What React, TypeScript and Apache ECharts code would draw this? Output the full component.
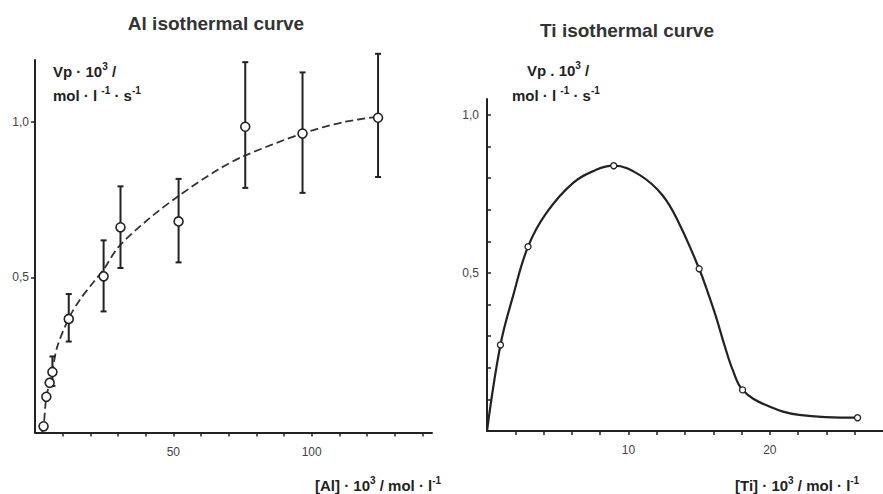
import React, { useEffect, useRef } from "react";
import * as echarts from "echarts";

// ---- Al isothermal curve ----
const alPointX = [3.1, 4.1, 5.3, 6.3, 12.2, 24.8, 30.9, 51.9, 76.0, 96.7, 124.0];
const alPointY = [0.02, 0.115, 0.16, 0.195, 0.366, 0.503, 0.661, 0.68, 0.985, 0.963, 1.014];
const alErrX = [6.3, 12.2, 24.8, 30.9, 51.9, 76.0, 96.7, 124.0];
const alErrLow = [0.15, 0.293, 0.39, 0.53, 0.548, 0.788, 0.772, 0.823];
const alErrHigh = [0.245, 0.446, 0.619, 0.793, 0.817, 1.193, 1.16, 1.22];
const alCurveX = [2.5, 3.1, 4.1, 5.3, 6.3, 8.0, 12.2, 16.4, 21.2, 24.8, 30.2, 41.1, 51.9, 65.8, 75.4, 96.5, 111.5, 123.8];
const alCurveY = [0.0, 0.02, 0.115, 0.16, 0.2, 0.275, 0.368, 0.43, 0.485, 0.525, 0.598, 0.688, 0.762, 0.845, 0.89, 0.963, 1.0, 1.017];
const alXTicks = [10, 20, 30, 40, 50, 60, 70, 80, 90, 100, 110, 120, 130, 140];
const alXLabels = [50, 100];
const alYTicks = [0.5, 1.0];

// ---- Ti isothermal curve ----
const tiPointX = [0.95, 2.9, 8.96, 15.0, 18.07, 26.2];
const tiPointY = [0.272, 0.583, 0.839, 0.513, 0.13, 0.042];
const tiCurveX = [0, 0.95, 1.83, 2.9, 4.19, 6.07, 7.72, 8.96, 10.78, 12.42, 13.6, 15.0, 15.6, 16.2, 16.8, 17.4, 18.07, 19.72, 22.07, 26.2];
const tiCurveY = [0.0, 0.272, 0.425, 0.583, 0.689, 0.784, 0.826, 0.839, 0.81, 0.745, 0.655, 0.513, 0.44, 0.36, 0.27, 0.19, 0.13, 0.082, 0.051, 0.042];
const tiXTicks = [2, 4, 6, 8, 10, 12, 14, 16, 18, 20, 22, 24, 26];
const tiXLabels = [10, 20];
const tiYTicks = [0.1, 0.2, 0.3, 0.4, 0.5, 0.6, 0.7, 0.8, 0.9, 1.0];
const tiYLabels = [0.5, 1.0];

const FONT = "'Liberation Sans', Arial, sans-serif";
const INK = "#222";

const zip = (a: number[], b: number[]) => a.map((v, i) => [v, b[i]]);
const commaFmt = (v: number) => v.toFixed(1).replace(".", ",");

const supRich = {
  b: { fontSize: 15, fontWeight: "bold", fontFamily: FONT, fill: INK, lineHeight: 20 },
  s: { fontSize: 10, fontWeight: "bold", fontFamily: FONT, fill: INK, verticalAlign: "top", lineHeight: 11 },
};

export default function App() {
  const ref = useRef<HTMLDivElement>(null);
  useEffect(() => {
    if (!ref.current) return;
    const chart = echarts.init(ref.current, null, { renderer: "svg" });
    const axisLine = { lineStyle: { color: INK, width: 2 } };
    const labelStyle = { color: "#444", fontSize: 12, fontFamily: FONT };
    const titleStyle = { fontSize: 19, fontWeight: "bold", color: "#333", fontFamily: FONT };
    chart.setOption({
      animation: false,
      backgroundColor: "#fff",
      title: [
        { text: "Al isothermal curve", left: 211, top: 9, textAlign: "center", textStyle: titleStyle },
        { text: "Ti isothermal curve", left: 622, top: 16, textAlign: "center", textStyle: titleStyle },
      ],
      grid: [
        { left: 35, top: 60, width: 397, height: 372.5, outerBoundsMode: "none", containLabel: false },
        { left: 487, top: 99, width: 396, height: 332, outerBoundsMode: "none", containLabel: false },
      ],
      xAxis: [
        {
          gridIndex: 0,
          type: "value",
          min: 0,
          max: 143.5,
          splitLine: { show: false },
          axisLine,
          axisTick: { customValues: alXTicks, length: 4, lineStyle: { color: INK, width: 1.5 } },
          axisLabel: { customValues: alXLabels, margin: 13, ...labelStyle },
        },
        {
          gridIndex: 1,
          type: "value",
          min: 0,
          max: 28,
          splitLine: { show: false },
          axisLine,
          axisTick: { customValues: tiXTicks, length: 4, lineStyle: { color: INK, width: 1.5 } },
          axisLabel: { customValues: tiXLabels, margin: 13, ...labelStyle },
        },
      ],
      yAxis: [
        {
          gridIndex: 0,
          type: "value",
          min: 0,
          max: 1.2,
          splitLine: { show: false },
          axisLine,
          axisTick: { customValues: alYTicks, length: 4, lineStyle: { color: INK, width: 1.5 } },
          axisLabel: { customValues: alYTicks, margin: 6, formatter: commaFmt, ...labelStyle },
        },
        {
          gridIndex: 1,
          type: "value",
          min: 0,
          max: 1.05,
          splitLine: { show: false },
          axisLine,
          axisTick: { customValues: tiYTicks, inside: true, length: 4, lineStyle: { color: INK, width: 1.5 } },
          axisLabel: { customValues: tiYLabels, margin: 8, formatter: commaFmt, ...labelStyle },
        },
      ],
      series: [
        {
          type: "line",
          xAxisIndex: 0,
          yAxisIndex: 0,
          data: zip(alCurveX, alCurveY),
          showSymbol: false,
          smooth: 0.3,
          lineStyle: { color: "#333", width: 1.8, type: [8, 4] },
          z: 2,
        },
        {
          type: "custom",
          xAxisIndex: 0,
          yAxisIndex: 0,
          clip: false,
          data: alErrX.map((x, i) => [x, alErrLow[i], alErrHigh[i]]),
          renderItem: (params: any, api: any) => {
            const lo = api.coord([api.value(0), api.value(1)]);
            const hi = api.coord([api.value(0), api.value(2)]);
            const st = { stroke: INK, lineWidth: 2 };
            const cw = 3;
            return {
              type: "group",
              children: [
                { type: "line", shape: { x1: lo[0], y1: lo[1], x2: hi[0], y2: hi[1] }, style: st },
                { type: "line", shape: { x1: lo[0] - cw, y1: lo[1], x2: lo[0] + cw, y2: lo[1] }, style: st },
                { type: "line", shape: { x1: hi[0] - cw, y1: hi[1], x2: hi[0] + cw, y2: hi[1] }, style: st },
              ],
            };
          },
          z: 3,
        },
        {
          type: "scatter",
          xAxisIndex: 0,
          yAxisIndex: 0,
          data: zip(alPointX, alPointY),
          symbol: "circle",
          symbolSize: 9,
          itemStyle: { color: "#fff", borderColor: INK, borderWidth: 1.6, opacity: 1 },
          z: 5,
        },
        {
          type: "line",
          xAxisIndex: 1,
          yAxisIndex: 1,
          data: zip(tiCurveX, tiCurveY),
          showSymbol: false,
          smooth: 0.4,
          lineStyle: { color: INK, width: 2.2 },
          z: 2,
        },
        {
          type: "scatter",
          xAxisIndex: 1,
          yAxisIndex: 1,
          data: zip(tiPointX, tiPointY),
          symbol: "circle",
          symbolSize: 6,
          itemStyle: { color: "#fff", borderColor: INK, borderWidth: 1.3, opacity: 1 },
          z: 5,
        },
      ],
      graphic: [
        { type: "text", x: 53, y: 61, style: { text: "{b|Vp · 10}{s|3}{b| /}", rich: supRich } },
        { type: "text", x: 53, y: 85, style: { text: "{b|mol · l }{s|-1}{b| · s}{s|-1}", rich: supRich } },
        { type: "text", x: 527, y: 60, style: { text: "{b|Vp . 10}{s|3}{b| /}", rich: supRich } },
        { type: "text", x: 512, y: 85, style: { text: "{b|mol · l }{s|-1}{b| · s}{s|-1}", rich: supRich } },
        { type: "text", x: 315, y: 475, style: { text: "{b|[Al] · 10}{s|3}{b| / mol · l}{s|-1}", rich: supRich } },
        { type: "text", x: 735, y: 475, style: { text: "{b|[Ti] · 10}{s|3}{b| / mol · l}{s|-1}", rich: supRich } },
      ],
    });
    return () => chart.dispose();
  }, []);
  return (
    <div
      ref={ref}
      style={{ position: "fixed", left: 0, top: 0, width: 883, height: 494, background: "#fff" }}
    />
  );
}
